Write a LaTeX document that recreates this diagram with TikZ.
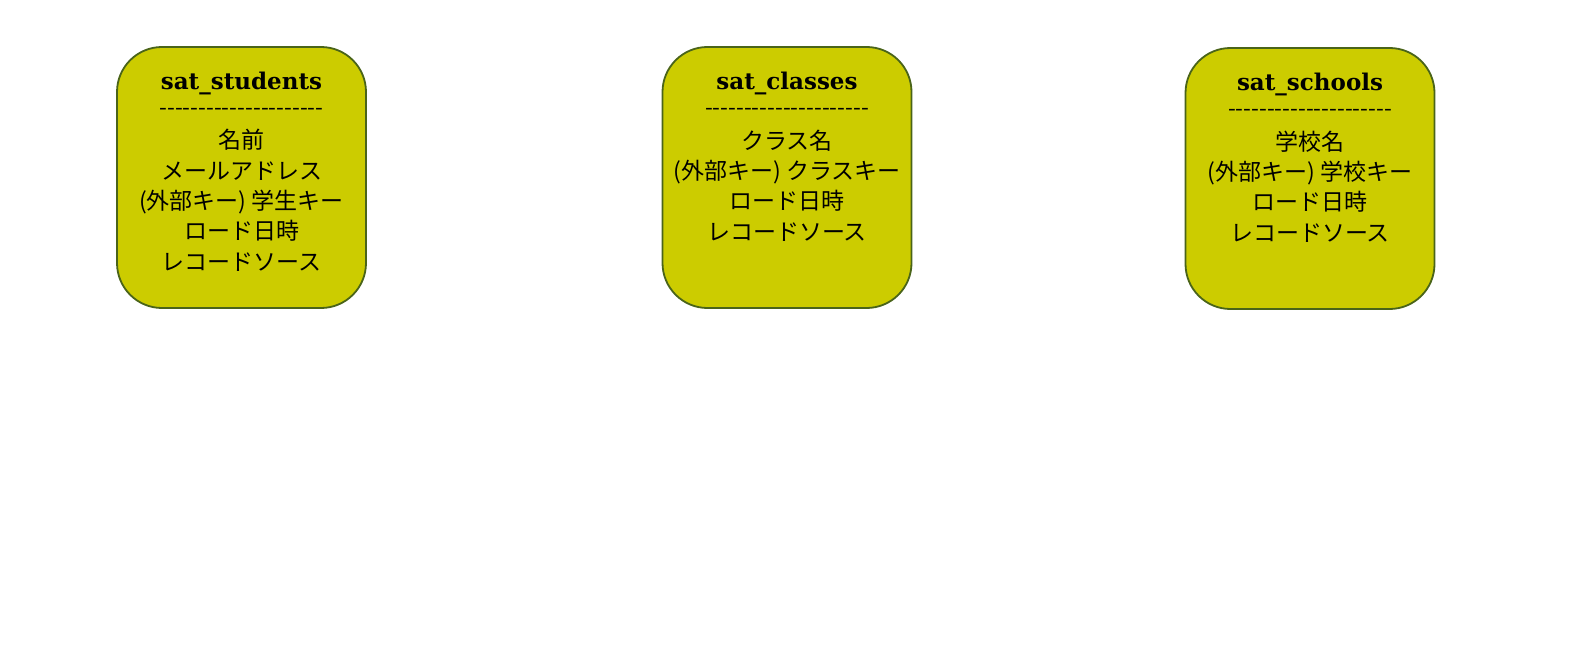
\documentclass[tikz,border=0pt]{standalone}
\usepackage{fontspec}
\newfontfamily\jpfont{Noto Sans CJK JP}
\newfontfamily\titlefont{DejaVu Serif}
\definecolor{boxfill}{HTML}{CCCC00}
\definecolor{boxline}{HTML}{4A6419}
\begin{document}
\begin{tikzpicture}[x=1bp,y=-1bp,
  sat/.style={draw=boxline,line width=1.8bp,fill=boxfill,rounded corners=45bp,minimum width=249bp,minimum height=261bp,inner sep=0pt},
  body/.style={anchor=base,align=center,inner sep=0pt,font=\jpfont\fontsize{23bp}{30.3bp}\selectfont},
  title/.style={font=\titlefont\bfseries\fontsize{23bp}{25bp}\selectfont},
  dashes/.style={inner sep=0pt,font=\jpfont\fontsize{22.5bp}{24bp}\selectfont}]
\useasboundingbox (0,0) rectangle (1577,656);
\node[sat] (b1) at (241.5,177.5) {};
\node[sat] (b2) at (787,177.5) {};
\node[sat] (b3) at (1310,178.5) {};
\node[title] (t1) at (241.5,83) {sat\_students};
\node[title] (t2) at (787,83) {sat\_classes};
\node[title] (t3) at (1310,84) {sat\_schools};
\node[dashes] (d1) at (241.5,112) {-{}-{}-{}-{}-{}-{}-{}-{}-{}-{}-{}-{}-{}-{}-{}-{}-{}-{}-{}-{}-{}};
\node[dashes] (d2) at (787,112) {-{}-{}-{}-{}-{}-{}-{}-{}-{}-{}-{}-{}-{}-{}-{}-{}-{}-{}-{}-{}-{}};
\node[dashes] (d3) at (1310,113) {-{}-{}-{}-{}-{}-{}-{}-{}-{}-{}-{}-{}-{}-{}-{}-{}-{}-{}-{}-{}-{}};
\node[body] (c1) at (241.5,270) {名前\\メールアドレス\\(外部キー) 学生キー\\ロード日時\\レコードソース};
\node[body] (c2) at (787,240) {クラス名\\(外部キー) クラスキー\\ロード日時\\レコードソース};
\node[body] (c3) at (1310,241) {学校名\\(外部キー) 学校キー\\ロード日時\\レコードソース};
\end{tikzpicture}
\end{document}
